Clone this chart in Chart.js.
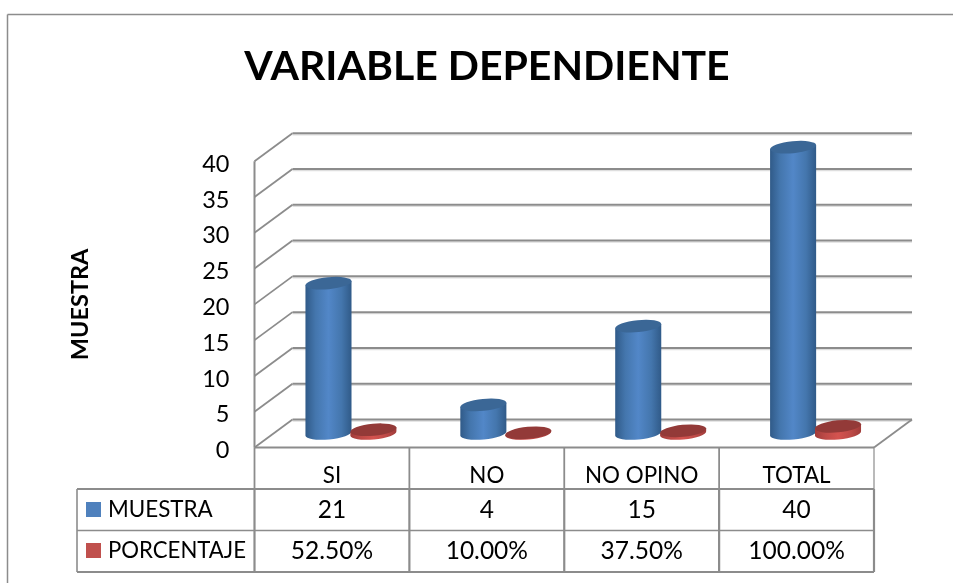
<!DOCTYPE html>
<html>
<head>
<meta charset="utf-8">
<style>
  html, body { margin: 0; padding: 0; background: #fff; }
  canvas { display: block; }
</style>
<script src="https://cdn.jsdelivr.net/npm/chart.js@4"></script>
</head>
<body>
<canvas id="grafico" width="953" height="583"></canvas>
<script>
const categorias = ['SI', 'NO', 'NO OPINO', 'TOTAL'];
const muestra = [21, 4, 15, 40];
const porcentaje = [0.525, 0.1, 0.375, 1];
const muestraTabla = ['21', '4', '15', '40'];
const porcentajeTabla = ['52.50%', '10.00%', '37.50%', '100.00%'];
const marcasY = [0, 5, 10, 15, 20, 25, 30, 35, 40];

const fuente = 'Lato, "Open Sans", sans-serif';
const gris = '#8c8c8c';
const fondoX = 38, fondoY = -28;   // desplazamiento de la pared del fondo
const mitadX = 19, mitadY = -14;   // donde se apoyan los cilindros
const inclinacion = -5.5 * Math.PI / 180;
const radioY = 6;
const tonos = [
  { borde: '#305a88', cuarto: '#4476ad', medio: '#5287c8', tapa: '#3b6796' },
  { borde: '#a03c3a', cuarto: '#bd4a47', medio: '#d4534f', tapa: '#933a38' }
];

function linea(ctx, x1, y1, x2, y2, ancho, color) {
  ctx.beginPath();
  ctx.moveTo(x1, y1);
  ctx.lineTo(x2, y2);
  ctx.lineWidth = ancho;
  ctx.strokeStyle = color || gris;
  ctx.stroke();
}

function cilindro(ctx, barra, tono) {
  const cx = barra.x + mitadX;
  const rx = barra.width / 2;
  const arriba = barra.y + mitadY;
  const abajo = barra.base + mitadY;
  const dx = rx * Math.cos(inclinacion);
  const dy = rx * Math.sin(inclinacion);

  const grad = ctx.createLinearGradient(cx - rx, 0, cx + rx, 0);
  grad.addColorStop(0, tono.borde);
  grad.addColorStop(0.22, tono.cuarto);
  grad.addColorStop(0.5, tono.medio);
  grad.addColorStop(0.78, tono.cuarto);
  grad.addColorStop(1, tono.borde);

  ctx.beginPath();
  ctx.moveTo(cx - dx, arriba - dy);
  ctx.lineTo(cx - dx, abajo - dy);
  ctx.ellipse(cx, abajo, rx, radioY, inclinacion, Math.PI, 0, true);
  ctx.lineTo(cx + dx, arriba + dy);
  ctx.closePath();
  ctx.fillStyle = grad;
  ctx.fill();

  ctx.beginPath();
  ctx.ellipse(cx, arriba, rx, radioY, inclinacion, 0, Math.PI * 2);
  ctx.fillStyle = tono.tapa;
  ctx.fill();
}

const paredes = {
  id: 'paredes',
  beforeDatasetsDraw(chart) {
    const { ctx, scales: { x, y } } = chart;
    const izq = x.left, der = x.right, base = y.getPixelForValue(0);
    ctx.save();
    // marco exterior
    linea(ctx, 7.5, 14.5, 953, 14.5, 1.5);
    linea(ctx, 7.5, 14.5, 7.5, 583, 1.5);
    // lineas de la pared y el piso
    marcasY.forEach(v => {
      const py = y.getPixelForValue(v);
      linea(ctx, izq, py, izq + fondoX, py + fondoY, 1.8);
      linea(ctx, izq + fondoX, py + fondoY + 1.6, der + fondoX, py + fondoY + 1.6, 1.2, '#dedede');
      linea(ctx, izq + fondoX, py + fondoY, der + fondoX, py + fondoY, 2);
    });
    linea(ctx, der, base, der + fondoX, base + fondoY, 1.8);
    linea(ctx, izq, y.getPixelForValue(40), izq, base, 2);
    linea(ctx, izq, base, der, base, 2.2);
    ctx.restore();
  },
  beforeDatasetDraw() {
    return false;
  },
  afterDatasetsDraw(chart) {
    const { ctx } = chart;
    ctx.save();
    chart.data.datasets.forEach((ds, i) => {
      chart.getDatasetMeta(i).data.forEach(barra => cilindro(ctx, barra, tonos[i]));
    });
    ctx.restore();
  }
};

const tabla = {
  id: 'tabla',
  afterDraw(chart) {
    const { ctx, scales: { x, y } } = chart;
    const base = y.getPixelForValue(0);
    const filas = [base, 489, 530.5, 572];
    const ancho = (x.right - x.left) / categorias.length;
    const izqTabla = 77;
    ctx.save();
    // columnas
    for (let i = 0; i <= categorias.length; i++) {
      const cx = x.left + i * ancho;
      linea(ctx, cx, base, cx, filas[1], i === categorias.length ? 1.2 : 1.8);
      linea(ctx, cx, filas[1], cx, filas[3], 2.2);
    }
    linea(ctx, izqTabla, filas[1], izqTabla, filas[3], 1.6);
    // filas
    linea(ctx, izqTabla, filas[1], x.right, filas[1], 2.2);
    linea(ctx, izqTabla, filas[2], x.right, filas[2], 1.6);
    linea(ctx, izqTabla, filas[3], x.right, filas[3], 2.2);

    ctx.fillStyle = '#000';
    ctx.font = '24.5px ' + fuente;
    ctx.textBaseline = 'middle';
    ctx.textAlign = 'center';
    categorias.forEach((c, i) => {
      const cx = x.getPixelForTick(i);
      ctx.fillText(muestraTabla[i], cx, 510);
      ctx.fillText(porcentajeTabla[i], cx, 551);
    });
    // leyenda dentro de la tabla
    ctx.textAlign = 'left';
    ctx.font = '22.4px ' + fuente;
    chart.data.datasets.forEach((ds, i) => {
      const cy = i === 0 ? 509.5 : 550.5;
      ctx.fillStyle = ds.backgroundColor;
      ctx.fillRect(86, cy - 7.5, 15, 15);
      ctx.fillStyle = '#000';
      ctx.fillText(ds.label, 108, cy + 0.5, 138);
    });
    ctx.restore();
  }
};

new Chart(document.getElementById('grafico'), {
  type: 'bar',
  data: {
    labels: categorias,
    datasets: [
      { label: 'MUESTRA', data: muestra, backgroundColor: '#4f81bd', categoryPercentage: 0.58, barPercentage: 1.03 },
      { label: 'PORCENTAJE', data: porcentaje, backgroundColor: '#c0504d', categoryPercentage: 0.58, barPercentage: 1.03 }
    ]
  },
  plugins: [paredes, tabla],
  options: {
    responsive: false,
    animation: false,
    layout: { padding: { left: 100, right: 79, top: 42, bottom: 0 } },
    plugins: {
      legend: { display: false },
      tooltip: { enabled: false },
      title: {
        display: true,
        text: 'VARIABLE DEPENDIENTE',
        color: '#000',
        font: { family: fuente, size: 41, weight: 'bold', lineHeight: 1.2 },
        padding: { top: 0, bottom: 70 }
      }
    },
    scales: {
      x: {
        grid: { display: false, drawTicks: false },
        border: { display: false },
        afterFit(scale) { scale.height = 135.5; },
        ticks: { color: '#000', font: { family: fuente, size: 22.4 }, padding: 15, maxRotation: 0 }
      },
      y: {
        min: 0,
        max: 40,
        afterFit(scale) { scale.width = 154.5; },
        grid: { display: false, drawTicks: false },
        border: { display: false },
        afterBuildTicks(scale) { scale.ticks = marcasY.map(v => ({ value: v })); },
        ticks: { color: '#000', font: { family: fuente, size: 23.5 }, padding: 25, labelOffset: 3 },
        title: {
          display: true,
          text: 'MUESTRA',
          color: '#000',
          font: { family: fuente, size: 23.5, weight: 'bold', lineHeight: 1.2 },
          padding: { top: -34, bottom: 0 }
        }
      }
    }
  }
});
</script>
</body>
</html>
